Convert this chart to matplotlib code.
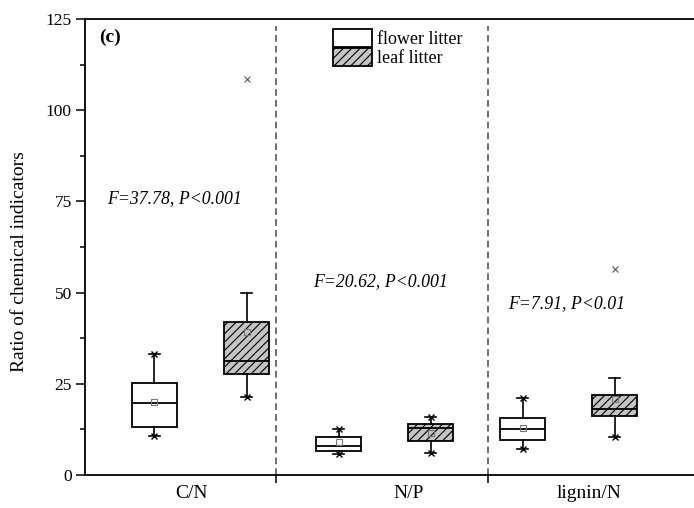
import matplotlib
matplotlib.use("Agg")
import matplotlib.pyplot as plt
from matplotlib.patches import Patch

plt.rcParams['font.family'] = ['Liberation Serif', 'DejaVu Serif']
plt.rcParams['hatch.linewidth'] = 0.8

# --- data ---
categories = ['C/N', 'N/P', 'lignin/N']
series_names = ['flower litter', 'leaf litter']

flower_whislo = [10.7, 5.8, 7.0]
flower_q1 = [13.2, 6.7, 9.6]
flower_med = [19.8, 8.0, 12.6]
flower_q3 = [25.1, 10.3, 15.5]
flower_whishi = [33.1, 12.6, 21.2]
flower_mean = [20.0, 9.0, 12.9]
flower_out = [[], [], []]

leaf_whislo = [21.5, 5.9, 10.3]
leaf_q1 = [27.7, 9.4, 16.2]
leaf_med = [31.3, 12.8, 18.0]
leaf_q3 = [41.9, 13.9, 21.9]
leaf_whishi = [50.0, 16.0, 26.5]
leaf_mean = [39.3, 11.6, 20.8]
leaf_out = [[108.5], [], [56.4]]

stat_texts = ['F=37.78, P<0.001', 'F=20.62, P<0.001', 'F=7.91, P<0.01']
stat_x = [0.48, 2.72, 4.84]
stat_y = [75.9, 52.9, 47.1]

# layout
flower_pos = [1, 3, 5]
leaf_pos = [2, 4, 6]
separators = [2.317, 4.625]
label_pos = [1.40, 3.76, 5.72]


def make_stats(lo, q1, med, q3, hi, mean, out):
    return [dict(whislo=a, q1=b, med=c, q3=d, whishi=e, mean=f, fliers=g)
            for a, b, c, d, e, f, g in zip(lo, q1, med, q3, hi, mean, out)]


fig = plt.figure(figsize=(6.94, 5.08), dpi=100)
ax = fig.add_axes([85 / 694, 33 / 508, 609 / 694, 456 / 508])

common = dict(widths=0.49, patch_artist=True, showmeans=True, capwidths=0.11,
              manage_ticks=False,
              boxprops=dict(linewidth=1.3, edgecolor='black'),
              whiskerprops=dict(linewidth=1.2, color='black'),
              capprops=dict(linewidth=1.2, color='black'),
              medianprops=dict(linewidth=1.3, color='black'),
              meanprops=dict(marker='s', markersize=4, markerfacecolor='none',
                             markeredgecolor='#777777', markeredgewidth=0.8),
              flierprops=dict(marker='x', markersize=4, markeredgecolor='#555555',
                              markeredgewidth=0.8))

sets = [
    (flower_pos, make_stats(flower_whislo, flower_q1, flower_med, flower_q3,
                            flower_whishi, flower_mean, flower_out), 'white', ''),
    (leaf_pos, make_stats(leaf_whislo, leaf_q1, leaf_med, leaf_q3,
                          leaf_whishi, leaf_mean, leaf_out), '#c4c4c4', '////'),
]

for pos, stats, fc, hatch in sets:
    res = ax.bxp(stats, positions=pos, **common)
    for b in res['boxes']:
        b.set_facecolor(fc)
        b.set_hatch(hatch)
    # percentile markers at whisker ends
    for p, s in zip(pos, stats):
        ax.plot(p, s['whislo'], marker='x', ms=5, mew=1.0, color='black')
        if not s['fliers']:
            ax.plot(p, s['whishi'], marker='x', ms=5, mew=1.0, color='black')

for sx in separators:
    ax.axvline(sx, ymax=0.985, color='#555555', lw=1.2, ls=(0, (4, 2.5)), zorder=0)

for t, x, y in zip(stat_texts, stat_x, stat_y):
    ax.text(x, y, t, style='italic', fontsize=12.8, va='center', ha='left')

ax.text(0.397, 120.1, '(c)', fontweight='bold', fontsize=14, va='center', ha='left')

ax.set_xlim(0.2446, 6.864)
ax.set_ylim(0, 125)
ax.set_yticks([0, 25, 50, 75, 100, 125])
ax.set_yticks([12.5, 37.5, 62.5, 87.5, 112.5], minor=True)
ax.tick_params(axis='y', which='major', direction='out', length=6.5, width=1.1,
               labelsize=12.5, pad=3)
ax.tick_params(axis='y', which='minor', direction='out', length=3.6, width=1.1)

ax.set_xticks(separators)
ax.set_xticklabels([])
ax.set_xticks(label_pos, categories, minor=True)
ax.tick_params(axis='x', which='major', direction='out', length=5.8, width=1.1)
ax.tick_params(axis='x', which='minor', length=0, labelsize=14, pad=7)

for side in ['left', 'bottom', 'top']:
    ax.spines[side].set_linewidth(1.3)
ax.spines['right'].set_visible(False)

ax.set_ylabel('Ratio of chemical indicators', fontsize=14)
ax.yaxis.set_label_coords(-0.094, 0.468)

handles = [Patch(facecolor='white', edgecolor='black', linewidth=1.3),
           Patch(facecolor='#c4c4c4', edgecolor='black', linewidth=1.3, hatch='////')]
ax.legend(handles, series_names, loc='upper left',
          bbox_to_anchor=((333 - 85) / 609, (475 - 29) / 456),
          frameon=False, fontsize=13, handlelength=2.15, handleheight=1.15,
          handletextpad=0.3, labelspacing=0.0, borderpad=0, borderaxespad=0)

fig.savefig('out.png', dpi=100)
